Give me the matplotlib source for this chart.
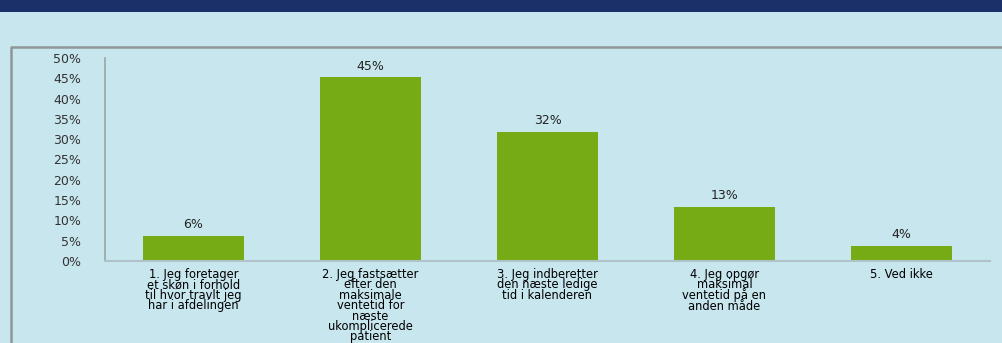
import matplotlib.pyplot as plt
from matplotlib.patches import Rectangle
from matplotlib.ticker import FuncFormatter

# Data
categories = [
    "1. Jeg foretager\net skøn i forhold\ntil hvor travlt jeg\nhar i afdelingen",
    "2. Jeg fastsætter\nefter den\nmaksimale\nventetid for\nnæste\nukomplicerede\npatient",
    "3. Jeg indberetter\nden næste ledige\ntid i kalenderen",
    "4. Jeg opgør\nmaksimal\nventetid på en\nanden måde",
    "5. Ved ikke",
]
shares = [0.062, 0.452, 0.318, 0.134, 0.037]
share_labels = ["6%", "45%", "32%", "13%", "4%"]

bg = "#C8E6EE"
green = "#77AB16"
grey = "#9AA5A8"

plt.rcParams["font.family"] = ["DejaVu Sans"]

fig = plt.figure(figsize=(10.03, 3.43), dpi=100, facecolor=bg)

# dark banner at the top and frame around the chart
fig.patches.append(Rectangle((0, 1 - 12 / 343), 1, 12 / 343, transform=fig.transFigure,
                             facecolor="#1B2F68", edgecolor="none", zorder=0))
fig.lines.append(plt.Line2D([11 / 1003, 11 / 1003, 1.0], [0.0, 1 - 47 / 343, 1 - 47 / 343],
                            transform=fig.transFigure, color="#8E9698", lw=1.8))

ax = fig.add_axes([105 / 1003, 82 / 343, 885 / 1003, 203 / 343])
ax.set_facecolor(bg)

x = range(len(categories))
ax.bar(x, shares, width=0.57, color=green, zorder=2)
for xi, v, lab in zip(x, shares, share_labels):
    ax.text(xi, v + 0.012, lab, ha="center", va="bottom", fontsize=9, color="#222222")

ax.set_xlim(-0.5, len(categories) - 0.5)
ax.set_ylim(0, 0.5)
ax.set_yticks([i * 0.05 for i in range(11)])
ax.yaxis.set_major_formatter(FuncFormatter(lambda v, p: f"{v * 100:.0f}%"))
ax.set_xticks(list(x))
ax.set_xticklabels(categories, fontsize=8.3, linespacing=0.74, color="#000000")
ax.tick_params(axis="x", length=0, pad=5)
ax.tick_params(axis="y", length=0, pad=17, labelsize=9, labelcolor="#333333")

for side in ["top", "right"]:
    ax.spines[side].set_visible(False)
ax.spines["left"].set_color(grey)
ax.spines["bottom"].set_color("#AFC3C8")
ax.spines["left"].set_linewidth(1.2)
ax.spines["bottom"].set_linewidth(1.5)

fig.savefig("out.png", dpi=100, facecolor=bg)
